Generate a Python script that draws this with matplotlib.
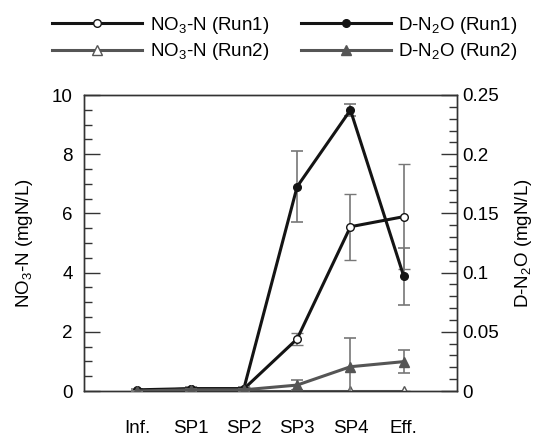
import matplotlib
matplotlib.use("Agg")
import matplotlib.pyplot as plt
import numpy as np
from matplotlib.ticker import MultipleLocator
from matplotlib.lines import Line2D

plt.rcParams['font.family'] = ['Liberation Sans', 'DejaVu Sans']
plt.rcParams['mathtext.fontset'] = 'custom'
plt.rcParams['mathtext.rm'] = 'Liberation Sans'
plt.rcParams['mathtext.it'] = 'Liberation Sans'
plt.rcParams['mathtext.default'] = 'regular'

categories = ["Inf.", "SP1", "SP2", "SP3", "SP4", "Eff."]
no3_run1 = [0.0, 0.07, 0.07, 1.76, 5.55, 5.89]
no3_run1_err = [0.02, 0.05, 0.05, 0.2, 1.12, 1.77]
no3_run2 = [0.0, 0.0, 0.0, 0.0, 0.0, 0.0]
no3_run2_err = [0.0, 0.0, 0.0, 0.0, 0.0, 0.0]
n2o_run1 = [0.001, 0.002, 0.002, 0.1726, 0.2373, 0.097]
n2o_run1_err = [0.001, 0.001, 0.001, 0.030, 0.005, 0.024]
n2o_run2 = [0.0, 0.001, 0.001, 0.005, 0.0205, 0.0248]
n2o_run2_err = [0.0, 0.001, 0.001, 0.004, 0.024, 0.010]

BLACK = '#141414'
GRAY = '#555555'
ERR = '#777777'
SPINE = '#333333'
FS = 13.5

fig = plt.figure(figsize=(5.53, 4.38), dpi=100)
ax = fig.add_axes([84/553, 1-391/438, (457-84)/553, (391-95)/438])
ax2 = ax.twinx()
x = np.arange(len(categories))

ms = 5.5
lw = 2.2
styles = dict(
    n1=dict(color=BLACK, lw=lw, marker='o', ms=ms, mfc='white', mec=BLACK, mew=1.0),
    n2=dict(color=GRAY, lw=lw, marker='^', ms=ms+1, mfc='white', mec=GRAY, mew=1.0),
    d1=dict(color=BLACK, lw=lw, marker='o', ms=ms, mfc=BLACK, mec=BLACK),
    d2=dict(color=GRAY, lw=lw, marker='^', ms=ms+1, mfc=GRAY, mec=GRAY),
)
eb = dict(ecolor=ERR, elinewidth=1.2, capsize=4.5, capthick=1.2)
ax.errorbar(x, no3_run1, yerr=no3_run1_err, **styles['n1'], **eb, zorder=3)
ax.errorbar(x, no3_run2, yerr=no3_run2_err, **styles['n2'], **eb, zorder=4)
ax2.errorbar(x, n2o_run1, yerr=n2o_run1_err, **styles['d1'], **eb, zorder=3)
ax2.errorbar(x, n2o_run2, yerr=n2o_run2_err, **styles['d2'], **eb, zorder=4)

ax.set_xlim(-1, len(categories))
ax.set_ylim(0, 10)
ax2.set_ylim(0, 0.25)
ax.set_xticks(x)
ax.set_xticklabels(categories)
ax.tick_params(axis='x', length=0, pad=21, labelsize=FS)
ax.yaxis.set_major_locator(MultipleLocator(2))
ax.yaxis.set_minor_locator(MultipleLocator(0.5))
ax.yaxis.set_major_formatter(plt.FuncFormatter(lambda v, p: f"{v:g}"))
ax.tick_params(axis='y', which='major', direction='in', length=11.5, width=1.0, color=SPINE, labelsize=FS, pad=8)
ax.tick_params(axis='y', which='minor', direction='in', length=6, width=1.0, color=SPINE)
ax2.yaxis.set_major_locator(MultipleLocator(0.05))
ax2.yaxis.set_minor_locator(MultipleLocator(0.01))
ax2.yaxis.set_major_formatter(plt.FuncFormatter(lambda v, p: f"{v:g}"))
ax2.tick_params(axis='y', which='major', direction='in', length=11.5, width=1.0, color=SPINE, labelsize=FS, pad=4)
ax2.tick_params(axis='y', which='minor', direction='in', length=6, width=1.0, color=SPINE)
for a in (ax, ax2):
    for s in a.spines.values():
        s.set_color(SPINE)
        s.set_linewidth(1.0)

ax.set_ylabel('NO$_3$-N (mgN/L)', fontsize=FS, labelpad=12)
ax2.set_ylabel('D-N$_2$O (mgN/L)', fontsize=FS, labelpad=10)

handles = [Line2D([], [], **styles['n1']), Line2D([], [], **styles['n2']),
           Line2D([], [], **styles['d1']), Line2D([], [], **styles['d2'])]
labels = ['NO$_3$-N (Run1)', 'NO$_3$-N (Run2)', 'D-N$_2$O (Run1)', 'D-N$_2$O (Run2)']
fig.legend(handles, labels, ncol=2, loc='upper center', bbox_to_anchor=(0.515, 1.005),
           frameon=False, fontsize=FS, handlelength=4.8, handletextpad=0.4,
           columnspacing=1.7, labelspacing=0.3)

fig.savefig('out.png', dpi=100)
